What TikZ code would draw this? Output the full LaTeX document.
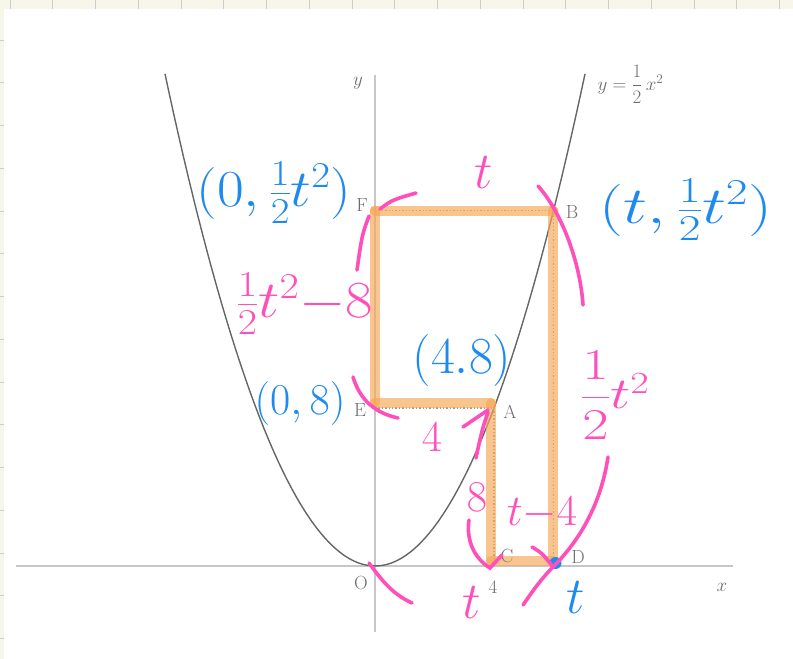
\RequirePackage{fix-cm}
\documentclass[tikz,border=0pt]{standalone}
\usepackage{amsmath}
\usepackage{xcolor}
\definecolor{penpink}{HTML}{FF4FBA}
\definecolor{penblue}{HTML}{1E8AF0}
\definecolor{hlorange}{HTML}{F7A654}
\definecolor{printgray}{HTML}{6E6E6E}
\definecolor{cream}{HTML}{F6F6E9}

\begin{document}
\begin{tikzpicture}[
    x=1pt, y=-1pt,
    gridtick/.style={line width=1pt, black!20},
    axis/.style={line width=1.3pt, black!22},
    curve/.style={line width=1.4pt, black!60},
    guide/.style={dotted, line width=1.4pt, black!40},
    highlight/.style={line width=10pt, hlorange, opacity=0.65, line cap=round},
    stroke/.style={line width=3.6pt, penpink, line cap=round},
    printed/.style={printgray, font=\fontsize{19}{19}\selectfont},
    inkpink/.style={penpink, font=\fontsize{44}{44}\selectfont},
    inkblue/.style={penblue, font=\fontsize{44}{44}\selectfont},
    bigink/.style={font=\fontsize{52}{52}\selectfont}
]
    % Page and grid strips
    \useasboundingbox (0,0) rectangle (793,659);
    \fill[cream] (0,0) rectangle (793,659);
    \fill[white] (4,9) rectangle (793,659);
    \foreach \i in {0,...,18}
        \draw[gridtick] ({10+42.75*\i},0) -- ++(0,9);
    \foreach \i in {0,...,14}
        \draw[gridtick] (0,{40+42.75*\i}) -- ++(4,0);

    % Graph of y = x^2/2
    \begin{scope}[shift={(375,566)}, x=29.75pt, y=19.75pt]
        \coordinate (O) at (0,0);
        \coordinate (A) at (4,8);
        \coordinate (B) at (6,18);
        \coordinate (C) at (4,0);
        \coordinate (D) at (6,0);
        \coordinate (E) at (0,8);
        \coordinate (F) at (0,18);
        \draw[axis] (-12.07,0) -- (12.03,0);
        \draw[axis] (0,-3.34) -- (0,24.86);
        \draw[curve] plot[domain=-7.06:7.06, samples=90] (\x, {0.5*\x*\x});
    \end{scope}

    % Dotted guides and highlighted rectangles
    \draw[guide] (F) -- (B) -- (D);
    \draw[guide] (E) -- (A) -- (C);
    \draw[highlight] (F) -- (B);
    \draw[highlight] ([xshift=-1pt]B) -- ([xshift=-1pt,yshift=5pt]D);
    \draw[highlight] (F) -- ([yshift=5pt]E);
    \draw[highlight] ([yshift=5pt]E) -- ([xshift=-3pt,yshift=5pt]A);
    \draw[highlight] ([xshift=-3pt,yshift=5pt]A) -- ([xshift=-3pt,yshift=5pt]C);
    \draw[highlight] ([xshift=-3pt,yshift=5pt]C) -- ([xshift=-1pt,yshift=5pt]D);
    \fill[penblue] ([xshift=2pt,yshift=3pt]D) circle (6pt);

    % Printed labels
    \node[printed] (ylab) at (358,83) {$y$};
    \node[printed] (xlab) at (722,587) {$x$};
    \node[printed] (Olab) at (361,583) {O};
    \node[printed] (fourlab) at (493,587) {4};
    \node[printed] (Flab) at (362,205) {F};
    \node[printed] (Blab) at (572,212) {B};
    \node[printed] (Elab) at (360,410) {E};
    \node[printed] (Alab) at (510,412) {A};
    \node[printed] (Clab) at (507,556) {C};
    \node[printed] (Dlab) at (578,557) {D};
    \node[printed, anchor=west] (curvelab) at (594,84) {$y=\dfrac{1}{2}\,x^2$};

    % Pink length marks
    \draw[stroke] (380,209) .. controls (392,200) .. (416,193);
    \draw[stroke] (538,186) .. controls (560,210) and (580,260) .. (583,305);
    \draw[stroke] (369,216) .. controls (362,235) .. (357,270);
    \draw[stroke] (353,377) .. controls (360,400) and (375,413) .. (398,418);
    \draw[stroke] (463,427) -- (488,410);
    \draw[stroke] (488,412) .. controls (482,430) .. (476,458);
    \draw[stroke] (469,520) .. controls (466,540) and (474,558) .. (490,568) -- (502,555);
    \draw[stroke] (532,547) .. controls (542,553) .. (553,567);
    \draw[stroke] (608,457) .. controls (600,510) and (575,545) .. (553,567)
                            .. controls (540,580) and (530,595) .. (523,605);
    \draw[stroke] (369,563) .. controls (385,585) and (395,595) .. (412,603);

    % Handwritten values
    \node[inkblue, bigink, xscale=1.12] (Fval) at (274,193) {$(0,\tfrac{1}{2}t^2)$};
    \node[inkblue, bigink, xscale=1.3] (Bval) at (686,210) {$(t,\tfrac{1}{2}t^2)$};
    \node[inkblue, bigink] (Aval) at (462,360) {$(4.8)$};
    \node[inkblue] (Eval) at (300,403) {$(0,8)$};
    \node[inkblue, bigink] (Dval) at (576,598) {$t$};
    \node[inkpink, bigink] (FBlen) at (484,173) {$t$};
    \node[inkpink, bigink, xscale=1.15] (FElen) at (305,304) {$\tfrac{1}{2}t^2{-}8$};
    \node[inkpink] (EAlen) at (432,437) {$4$};
    \node[inkpink] (AClen) at (477,497) {$8$};
    \node[inkpink] (CDlen) at (542,513) {$t{-}4$};
    \node[inkpink, xscale=1.3] (BDlen) at (615,395) {$\dfrac{1}{2}t^2$};
    \node[inkpink, bigink] (ODlen) at (472,603) {$t$};
\end{tikzpicture}
\end{document}
